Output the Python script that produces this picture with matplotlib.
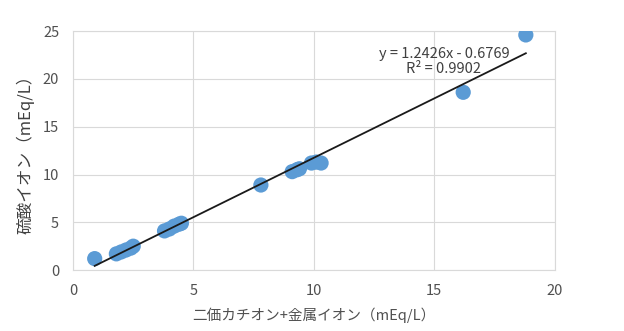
import numpy as np
import matplotlib
matplotlib.use("Agg")
from matplotlib import pyplot as plt

plt.rcParams["font.family"] = ["Noto Sans CJK JP", "DejaVu Sans"]

# divalent cation + metal ion (mEq/L)
x_vals = [0.9, 1.8, 2.0, 2.2, 2.4, 2.5, 3.8, 4.0, 4.2, 4.4, 4.5,
          7.8, 9.1, 9.3, 9.4, 9.9, 10.1, 10.3, 16.2, 18.8]
# sulfate ion (mEq/L)
y_vals = [1.2, 1.7, 1.9, 2.1, 2.3, 2.5, 4.1, 4.3, 4.6, 4.8, 4.9,
          8.9, 10.3, 10.5, 10.6, 11.2, 11.3, 11.2, 18.6, 24.6]

slope = 1.2426
intercept = -0.6769
r2 = 0.9902

x_ticks = [0, 5, 10, 15, 20]
y_ticks = [0, 5, 10, 15, 20, 25]

fig = plt.figure(figsize=(6.24, 3.31), dpi=100)
ax = fig.add_axes([0.117, 0.184, 0.772, 0.722])

grid_c = "#d9d9d9"
text_c = "#505050"

ax.scatter(x_vals, y_vals, s=120, color="#5b9bd5", edgecolors="none", zorder=3)

fit_x = np.array([min(x_vals), max(x_vals)])
ax.plot(fit_x, slope * fit_x + intercept, color="#1a1a1a", lw=1.3, zorder=4)

ax.text(15.4, 21.8, f"y = {slope}x - {-intercept}\nR² = {r2}",
        ha="center", va="center", fontsize=10.5, color="#404040",
        linespacing=1.1, zorder=5)

ax.set_xlim(0, 20)
ax.set_ylim(0, 25)
ax.set_xticks(x_ticks)
ax.set_yticks(y_ticks)
ax.grid(True, color=grid_c, lw=0.8)
ax.set_axisbelow(True)
for sp in ax.spines.values():
    sp.set_color(grid_c)
ax.tick_params(length=0, labelsize=10.5, colors=text_c, pad=10)

ax.set_xlabel("二価カチオン+金属イオン（mEq/L）", fontsize=10.5, color=text_c, labelpad=7)
ax.set_ylabel("硫酸イオン（mEq/L）", fontsize=12, color="#404040", labelpad=6)

fig.savefig("out.png", dpi=100)
